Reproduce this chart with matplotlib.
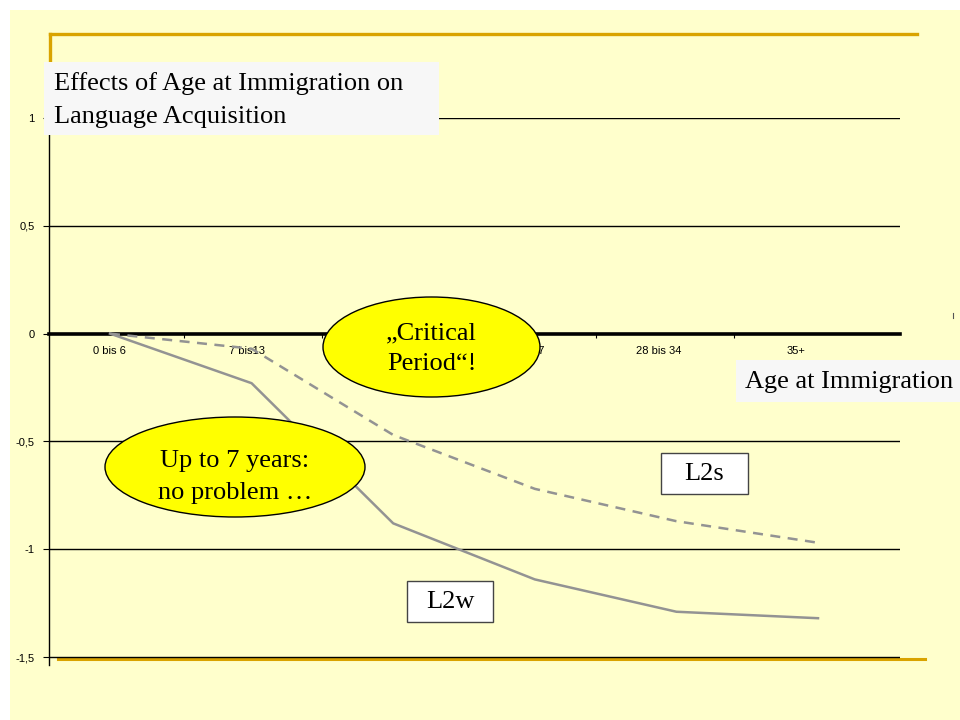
import matplotlib
matplotlib.use("Agg")
import matplotlib.pyplot as plt
from matplotlib.patches import Rectangle, Ellipse
from matplotlib.lines import Line2D

categories = ["0 bis 6", "7 bis13", "14 bis 20", "21 bis 27", "28 bis 34", "35+"]
l2w = [0.0, -0.23, -0.88, -1.14, -1.29, -1.32]
l2s = [0.0, -0.07, -0.47, -0.72, -0.87, -0.97]
yticks = [1, 0.5, 0, -0.5, -1, -1.5]
ytick_labels = ["1", "0,5", "0", "-0,5", "-1", "-1,5"]

W, H = 960, 720
fig = plt.figure(figsize=(9.6, 7.2), dpi=100, facecolor="white")

def fx(px):
    return px / W

def fy(py):
    return 1 - py / H

serif = ["Liberation Serif", "DejaVu Serif"]
sans = ["Liberation Sans", "DejaVu Sans"]
gold = "#D9A300"
bg = "#FFFFCC"
FS = 19

# background
fig.add_artist(Rectangle((fx(10), 0), fx(950), 1 - 10 / H, transform=fig.transFigure,
                         facecolor=bg, edgecolor="none", zorder=-5))

# axes: data area 49..900 px horizontally, 118..665 px vertically
ax = fig.add_axes([fx(49), fy(665), fx(900 - 49), (665 - 118) / H])
ax.set_facecolor("none")
x = list(range(len(categories)))
x0_px, step_px = 110.0, 141.6          # pixel position of first point, spacing
ax.set_xlim((49 - x0_px) / step_px, (900 - x0_px) / step_px)
ax.set_ylim(-1.537, 1.0)

ax.plot(x, l2w, color="#939393", lw=1.8, zorder=3)
ax.plot(x, l2s, color="#939393", lw=1.8, ls=(0, (4, 3)), zorder=3)

for s in ["top", "right"]:
    ax.spines[s].set_visible(False)
ax.spines["left"].set_color("black")
ax.spines["left"].set_linewidth(1)
ax.spines["bottom"].set_position(("data", 0))
ax.spines["bottom"].set_linewidth(2.6)
ax.spines["bottom"].set_color("black")
ax.spines["bottom"].set_zorder(2)

ax.set_yticks(yticks)
ax.set_yticklabels(ytick_labels, fontsize=8, family=sans)
ax.tick_params(axis="y", direction="out", length=4.5, width=0.8, pad=6)
for t in yticks:
    if t != 0:
        ax.axhline(t, color="black", lw=1.0, zorder=1)

# category axis slots (the pasted category axis is slightly narrower than the data)
slot_left, slot_w = 47.0, 137.3
to_data = lambda px: (px - x0_px) / step_px
label_pos = [to_data(slot_left + slot_w * (i + 0.5) - 6) for i in x]
tick_pos = [to_data(slot_left + slot_w * k) for k in range(1, len(categories))]
ax.set_xticks(label_pos)
ax.set_xticklabels(categories, fontsize=8, family=sans)
ax.set_xticks(tick_pos, minor=True)
ax.tick_params(axis="x", which="major", length=0, pad=9)
ax.tick_params(axis="x", which="minor", direction="out", length=3, width=0.8)
# the third category label lies completely behind the "Critical Period" ellipse
ax.get_xticklabels()[2].set_visible(False)

# gold frame lines
fig.add_artist(Line2D([fx(50), fx(917)], [fy(34), fy(34)], color=gold, lw=2.4,
                      transform=fig.transFigure, zorder=0.5))
fig.add_artist(Line2D([fx(50), fx(50)], [fy(34), fy(118)], color=gold, lw=2.4,
                      transform=fig.transFigure, zorder=0.5))
fig.add_artist(Line2D([fx(58), fx(925)], [fy(658.5), fy(658.5)], color=gold, lw=2.2,
                      transform=fig.transFigure, zorder=-1))
fig.add_artist(Line2D([fx(953), fx(953)], [fy(313), fy(318)], color="#555555", lw=0.8,
                      transform=fig.transFigure))

# title box
fig.add_artist(Rectangle((fx(44), fy(135)), fx(439 - 44), (135 - 62) / H,
                         transform=fig.transFigure, facecolor="#F7F7F7",
                         edgecolor="none", zorder=2))
fig.text(fx(54), fy(84), "Effects of Age at Immigration on", family=serif,
         fontsize=FS, va="center", ha="left", zorder=3)
fig.text(fx(54), fy(117), "Language Acquisition", family=serif,
         fontsize=FS, va="center", ha="left", zorder=3)

# x-axis title box
fig.add_artist(Rectangle((fx(736), fy(402)), fx(960 - 736), (402 - 360) / H,
                         transform=fig.transFigure, facecolor="#F7F7F7",
                         edgecolor="none", zorder=2))
fig.text(fx(745), fy(382), "Age at Immigration", family=serif,
         fontsize=FS, va="center", ha="left", zorder=3)

# ellipses
fig.add_artist(Ellipse((fx(431.5), fy(347)), fx(217), 100 / H, transform=fig.transFigure,
                       facecolor="#FFFF00", edgecolor="black", lw=1, zorder=4))
fig.text(fx(431.5), fy(333), "\u201eCritical", family=serif, fontsize=FS,
         ha="center", va="center", zorder=5)
fig.text(fx(431.5), fy(364), "Period\u201c!", family=serif, fontsize=FS,
         ha="center", va="center", zorder=5)

fig.add_artist(Ellipse((fx(235), fy(467)), fx(260), 100 / H, transform=fig.transFigure,
                       facecolor="#FFFF00", edgecolor="black", lw=1, zorder=4))
fig.text(fx(235), fy(461), "Up to 7 years:", family=serif, fontsize=FS,
         ha="center", va="center", zorder=5)
fig.text(fx(235), fy(493), "no problem \u2026", family=serif, fontsize=FS,
         ha="center", va="center", zorder=5)

# series label boxes
for (bx0, by0, bx1, by1, label) in [(661, 453, 748, 494, "L2s"), (407, 581, 493, 622, "L2w")]:
    fig.add_artist(Rectangle((fx(bx0), fy(by1)), fx(bx1 - bx0), (by1 - by0) / H,
                             transform=fig.transFigure, facecolor="white",
                             edgecolor="#444444", lw=1, zorder=4))
    fig.text(fx((bx0 + bx1) / 2), fy((by0 + by1) / 2 + 1), label, family=serif,
             fontsize=FS, ha="center", va="center", zorder=5)

fig.savefig("out.png", dpi=100, facecolor="white")
